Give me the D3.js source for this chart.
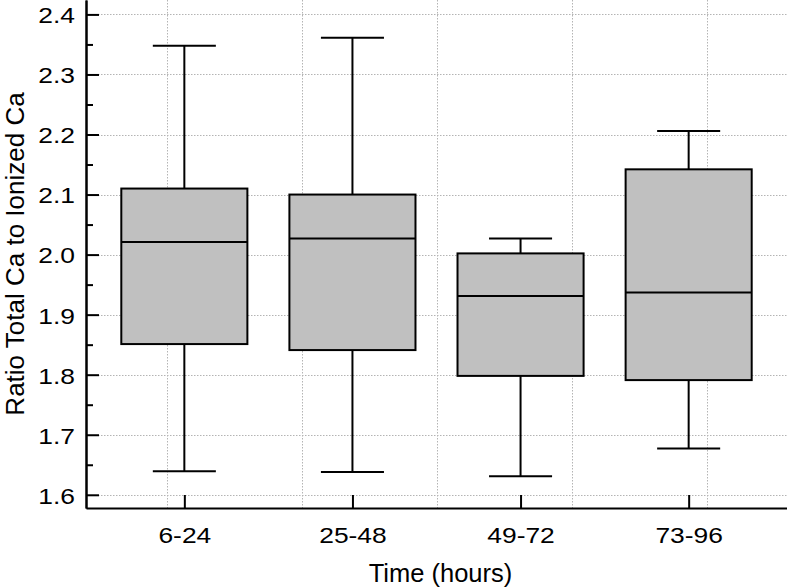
<!DOCTYPE html>
<html>
<head>
<meta charset="utf-8">
<script src="https://cdn.jsdelivr.net/npm/d3@7"></script>
<style>
  body { margin: 0; background: #fff; }
  text { font-family: "Liberation Sans", Arial, Helvetica, sans-serif; fill: #000; }
</style>
</head>
<body>
<div id="chart"></div>
<script>
// time windows (hours)
const categories = ['6-24', '25-48', '49-72', '73-96'];

// box plot stats
const whisker_low = [1.639, 1.638, 1.631, 1.677];
const q1 = [1.851, 1.841, 1.798, 1.791];
const median = [2.021, 2.027, 1.931, 1.937];
const q3 = [2.110, 2.100, 2.002, 2.142];
const whisker_high = [2.348, 2.361, 2.027, 2.206];

const y_ticks = [1.6, 1.7, 1.8, 1.9, 2.0, 2.1, 2.2, 2.3, 2.4];
const y_minor_ticks = [1.65, 1.75, 1.85, 1.95, 2.05, 2.15, 2.25, 2.35];

const x_title = 'Time (hours)';
const y_title = 'Ratio Total Ca to Ionized Ca';

const W = 787, H = 587;
const margin = {top: 0, right: 0, bottom: 79, left: 86};
const width = W - margin.left - margin.right;
const height = H - margin.top - margin.bottom;

// tick labels in the original are a bit wider than Liberation Sans
const stretch = 1.2;

let boxes = categories.map((c, i) => ({
    cat: c, lo: whisker_low[i], q1: q1[i], med: median[i], q3: q3[i], hi: whisker_high[i]
}));

let svg = d3.select('#chart').append('svg')
    .attr('width', W)
    .attr('height', H);

let g = svg.append('g')
    .attr('transform', `translate(${margin.left},${margin.top})`);

let x = d3.scalePoint()
    .domain(categories)
    .range([0, width])
    .padding(0.585);

let y = d3.scaleLinear()
    .domain([1.578, 2.424])
    .range([height, 0]);

// the vertical grid in the original sits on its own numeric scale, not on the categories
let gridX = d3.scaleLinear()
    .domain([-0.6, width / 135 - 0.6])
    .range([0, width]);

let step = x.step();
let boxW = step * 0.75;
let capW = step * 0.375;

// grid
let grid = g.append('g').attr('class', 'grid')
    .attr('stroke', '#b4b4b4')
    .attr('stroke-width', 1)
    .attr('stroke-dasharray', '1.5,1.5');

grid.selectAll('line.h')
    .data(y_ticks)
    .enter()
    .append('line')
    .attr('class', 'h')
    .attr('x1', 0).attr('x2', width)
    .attr('y1', d => Math.round(y(d)) + 0.5)
    .attr('y2', d => Math.round(y(d)) + 0.5);

grid.selectAll('line.v')
    .data(d3.range(0, 5))
    .enter()
    .append('line')
    .attr('class', 'v')
    .attr('x1', d => Math.round(gridX(d)) + 0.5)
    .attr('x2', d => Math.round(gridX(d)) + 0.5)
    .attr('y1', 0).attr('y2', height);

// boxes
let box = g.selectAll('g.box')
    .data(boxes)
    .enter()
    .append('g')
    .attr('class', 'box')
    .attr('stroke', '#000')
    .attr('stroke-width', 2);

box.append('line')
    .attr('x1', d => x(d.cat)).attr('x2', d => x(d.cat))
    .attr('y1', d => y(d.hi)).attr('y2', d => y(d.q3));

box.append('line')
    .attr('x1', d => x(d.cat)).attr('x2', d => x(d.cat))
    .attr('y1', d => y(d.q1)).attr('y2', d => y(d.lo));

box.append('line')
    .attr('x1', d => x(d.cat) - capW / 2).attr('x2', d => x(d.cat) + capW / 2)
    .attr('y1', d => y(d.hi)).attr('y2', d => y(d.hi));

box.append('line')
    .attr('x1', d => x(d.cat) - capW / 2).attr('x2', d => x(d.cat) + capW / 2)
    .attr('y1', d => y(d.lo)).attr('y2', d => y(d.lo));

box.append('rect')
    .attr('x', d => x(d.cat) - boxW / 2)
    .attr('width', boxW)
    .attr('y', d => y(d.q3))
    .attr('height', d => y(d.q1) - y(d.q3))
    .attr('fill', '#c0c0c0');

box.append('line')
    .attr('x1', d => x(d.cat) - boxW / 2).attr('x2', d => x(d.cat) + boxW / 2)
    .attr('y1', d => y(d.med)).attr('y2', d => y(d.med));

// axes, ticks pointing inward
let yAxis = g.append('g')
    .call(d3.axisLeft(y)
        .tickValues(y_ticks)
        .tickFormat(d3.format('.1f'))
        .tickSizeInner(-13)
        .tickSizeOuter(0)
        .tickPadding(11));

g.append('g')
    .call(d3.axisLeft(y)
        .tickValues(y_minor_ticks)
        .tickFormat('')
        .tickSizeInner(-7)
        .tickSizeOuter(0));

let xAxis = g.append('g')
    .attr('transform', `translate(0,${height})`)
    .call(d3.axisBottom(x)
        .tickSizeInner(-13)
        .tickSizeOuter(0)
        .tickPadding(19));

g.selectAll('.domain, .tick line')
    .attr('stroke', '#000')
    .attr('stroke-width', 2);

g.selectAll('.tick text')
    .attr('font-size', 22)
    .attr('font-family', '"Liberation Sans", Arial, sans-serif')
    .attr('transform', `scale(${stretch},1)`);

yAxis.selectAll('.tick text')
    .attr('x', -11 / stretch)
    .attr('dy', '0.38em');

// titles
g.append('text')
    .attr('x', width / 2 + 4)
    .attr('y', height + 74)
    .attr('text-anchor', 'middle')
    .attr('font-size', 25.5)
    .text(x_title);

g.append('text')
    .attr('transform', `translate(${-62},${height / 2}) rotate(-90)`)
    .attr('text-anchor', 'middle')
    .attr('font-size', 26)
    .text(y_title);
</script>
</body>
</html>
